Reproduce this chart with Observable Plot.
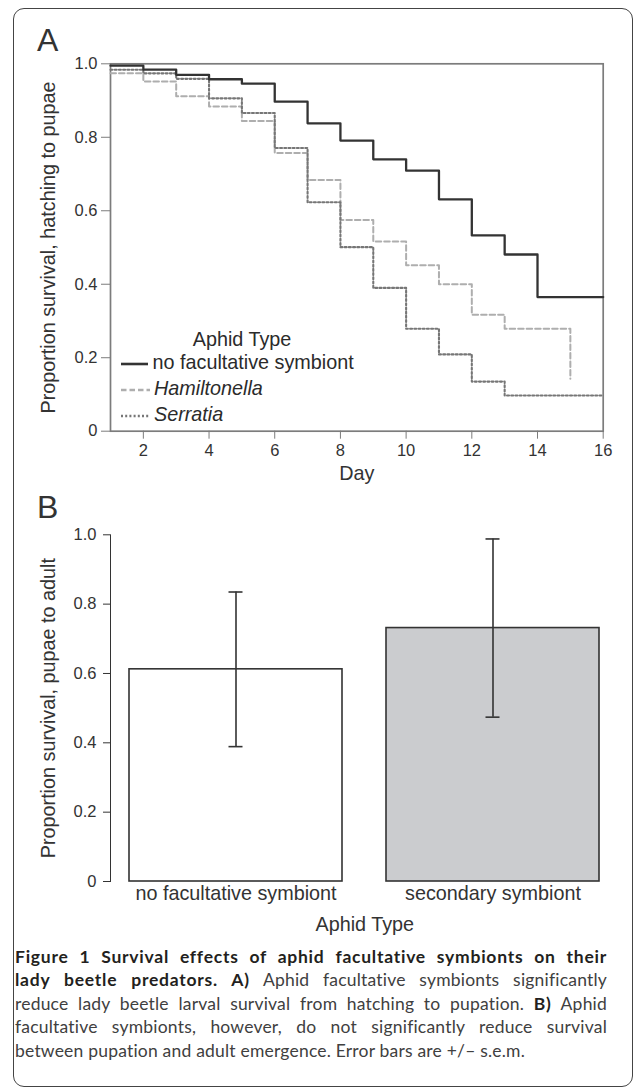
<!DOCTYPE html>
<html>
<head>
<meta charset="utf-8">
<script src="https://cdn.jsdelivr.net/npm/d3@7"></script>
<script src="https://cdn.jsdelivr.net/npm/@observablehq/plot@0.6"></script>
<style>
  body { margin: 0; background: #fff; }
  #wrap { position: relative; width: 633px; height: 1092px; overflow: hidden;
          font-family: "Liberation Sans", Arial, sans-serif; color: #2b2b2b; }
  .abs { position: absolute; }
  #border { left: 13px; top: 8px; width: 619.5px; height: 1079px; border: 1.5px solid #444;
            border-radius: 11px; box-sizing: border-box; }
  .panel { font-size: 32px; line-height: 1; color: #333; transform: translate(0, -50%); }
  #pa, #pb { left: 0; }
  #pa { top: 0; color: #7c7c7c; }
  #pb { top: 480px; color: #333; }
  #pa text, #pb text { fill: #333; }
  .leg { font-size: 19.8px; line-height: 1; color: #2b2b2b; white-space: nowrap; transform: translate(0, -50%); }
  .legtitle { transform: translate(-50%, -50%); }
  #caption { left: 15px; top: 944.8px; width: 592px; font-family: Lato, "Open Sans", sans-serif;
             font-size: 17.5px; line-height: 23.5px; color: #404040; letter-spacing: 0.2px; }
  #caption .ln { text-align: justify; text-align-last: justify; white-space: nowrap; }
  #caption .ln.last { text-align-last: left; }
  #caption b { color: #231f20; font-weight: 700; letter-spacing: 0.75px; }
</style>
</head>
<body>
<div id="wrap">
  <div id="border" class="abs"></div>
  <div id="pa" class="abs"></div>
  <div id="pb" class="abs"></div>
  <div class="abs panel" style="left:37px; top:40px;">A</div>
  <div class="abs panel" style="left:37px; top:506.5px;">B</div>
  <div id="legend"></div>
  <div id="caption" class="abs">
    <div class="ln"><b>Figure 1 Survival effects of aphid facultative symbionts on their</b></div>
    <div class="ln"><b>lady beetle predators. A)</b> Aphid facultative symbionts significantly</div>
    <div class="ln">reduce lady beetle larval survival from hatching to pupation. <b>B)</b> Aphid</div>
    <div class="ln">facultative symbionts, however, do not significantly reduce survival</div>
    <div class="ln last">between pupation and adult emergence. Error bars are +/– s.e.m.</div>
  </div>
</div>
<script>
// ---------- Panel A data ----------
const days = [1, 2, 3, 4, 5, 6, 7, 8, 9, 10, 11, 12, 13, 14, 15, 16];
const noSymbiont   = [0.995, 0.984, 0.970, 0.958, 0.946, 0.897, 0.838, 0.791, 0.740, 0.709, 0.631, 0.533, 0.481, 0.365, 0.365, 0.365];
const hamiltonella = [0.974, 0.952, 0.912, 0.884, 0.844, 0.757, 0.684, 0.575, 0.516, 0.452, 0.400, 0.317, 0.279, 0.279, 0.143, null];
const serratia     = [0.984, 0.974, 0.959, 0.906, 0.866, 0.771, 0.623, 0.501, 0.390, 0.279, 0.209, 0.135, 0.097, 0.097, 0.097, 0.097];
const seriesNames = ["no facultative symbiont", "Hamiltonella", "Serratia"];
const legendTitle = "Aphid Type";
const xTicksA = [2, 4, 6, 8, 10, 12, 14, 16];
const yTicks = [0, 0.2, 0.4, 0.6, 0.8, 1.0];
const xLabelA = "Day";
const yLabelA = "Proportion survival, hatching to pupae";

// ---------- Panel B data ----------
const barCategories = ["no facultative symbiont", "secondary symbiont"];
const barMeans = [0.612, 0.731];
const barErrors = [0.223, 0.257];
const xLabelB = "Aphid Type";
const yLabelB = "Proportion survival, pupae to adult";

const fmt = d => d === 0 ? "0" : d.toFixed(1);
const font = "'Liberation Sans', Arial, sans-serif";

// ---------- Panel A ----------
const rowsA = days.map((d, i) => ({day: d, s0: noSymbiont[i], s1: hamiltonella[i], s2: serratia[i]}));
const styles = [
  {stroke: "#333333", strokeWidth: 2.3, dash: null},
  {stroke: "#aeaeae", strokeWidth: 2, dash: "5.5,3"},
  {stroke: "#767676", strokeWidth: 2.1, dash: "2,2.2"}
];
const plotA = Plot.plot({
  width: 633, height: 500,
  marginTop: 63.3, marginBottom: 69.3, marginLeft: 110, marginRight: 30.3,
  style: {fontFamily: font, fontSize: "16.5px", background: "transparent", overflow: "visible"},
  x: {domain: [1, 16], ticks: xTicksA, tickSize: 8, tickPadding: 5, label: null},
  y: {domain: [0, 1], ticks: yTicks, tickFormat: fmt, tickSize: 9, tickPadding: 4, label: null},
  marks: [
    Plot.frame({stroke: "#7c7c7c", strokeWidth: 1.7}),
    Plot.line(rowsA, {x: "day", y: "s1", curve: "step-after", stroke: styles[1].stroke, strokeWidth: styles[1].strokeWidth, strokeDasharray: styles[1].dash}),
    Plot.line(rowsA, {x: "day", y: "s2", curve: "step-after", stroke: styles[2].stroke, strokeWidth: styles[2].strokeWidth, strokeDasharray: styles[2].dash}),
    Plot.line(rowsA, {x: "day", y: "s0", curve: "step-after", stroke: styles[0].stroke, strokeWidth: styles[0].strokeWidth}),
    Plot.text([xLabelA], {text: d => d, frameAnchor: "bottom", dy: 49, fontSize: 19.8}),
    Plot.text([yLabelA], {text: d => d, frameAnchor: "left", textAnchor: "middle", lineAnchor: "middle", dx: -62, rotate: -90, fontSize: 19.8})
  ]
});
document.getElementById("pa").appendChild(plotA);

// Legend (HTML) for panel A
const legend = document.getElementById("legend");
const t = document.createElement("div");
t.className = "abs leg legtitle";
t.style.left = "242px"; t.style.top = "340px";
t.textContent = legendTitle;
legend.appendChild(t);
const rowY = [362.5, 388.8, 415];
seriesNames.forEach((name, i) => {
  const st = styles[i];
  const ns = "http://www.w3.org/2000/svg";
  const svg = document.createElementNS(ns, "svg");
  svg.setAttribute("width", 34); svg.setAttribute("height", 10);
  svg.style.position = "absolute";
  svg.style.left = "120px";
  svg.style.top = (rowY[i] + 1 - 5) + "px";
  const ln = document.createElementNS(ns, "line");
  ln.setAttribute("x1", 1); ln.setAttribute("x2", i === 0 ? 28 : 30);
  ln.setAttribute("y1", 5); ln.setAttribute("y2", 5);
  ln.setAttribute("stroke", st.stroke); ln.setAttribute("stroke-width", st.strokeWidth + 0.3);
  if (st.dash) ln.setAttribute("stroke-dasharray", st.dash);
  svg.appendChild(ln);
  legend.appendChild(svg);
  const d = document.createElement("div");
  d.className = "abs leg";
  d.style.left = (i === 0 ? 152.5 : 154) + "px";
  d.style.top = rowY[i] + "px";
  if (i > 0) d.style.fontStyle = "italic";
  d.textContent = name;
  legend.appendChild(d);
});

// ---------- Panel B ----------
const rowsB = barCategories.map((c, i) => ({cat: c, mean: barMeans[i], lo: barMeans[i] - barErrors[i], hi: barMeans[i] + barErrors[i]}));
const plotB = Plot.plot({
  width: 633, height: 470,
  marginTop: 54.3, marginBottom: 69, marginLeft: 110, marginRight: 14.4,
  style: {fontFamily: font, fontSize: "16.5px", background: "transparent", overflow: "visible"},
  x: {domain: barCategories, paddingInner: 0.17, paddingOuter: 0.072, axis: null},
  y: {domain: [0, 1], ticks: yTicks, tickFormat: fmt, tickSize: 7, tickPadding: 7, line: true, label: null},
  color: {domain: barCategories, range: ["#ffffff", "#cbcccf"]},
  marks: [
    Plot.barY(rowsB, {x: "cat", y: "mean", fill: "cat", stroke: "#333", strokeWidth: 1.6}),
    Plot.ruleX(rowsB, {x: "cat", y1: "lo", y2: "hi", stroke: "#333", strokeWidth: 1.6}),
    Plot.tickY(rowsB, {x: "cat", y: "lo", insetLeft: 99.5, insetRight: 99.5, stroke: "#333", strokeWidth: 1.6}),
    Plot.tickY(rowsB, {x: "cat", y: "hi", insetLeft: 99.5, insetRight: 99.5, stroke: "#333", strokeWidth: 1.6}),
    Plot.text(barCategories, {x: d => d, text: d => d, frameAnchor: "bottom", dy: 18, fontSize: 19.8}),
    Plot.text([xLabelB], {text: d => d, frameAnchor: "bottom", dy: 49, fontSize: 19.8}),
    Plot.text([yLabelB], {text: d => d, frameAnchor: "left", textAnchor: "middle", lineAnchor: "middle", dx: -62, rotate: -90, fontSize: 19.8})
  ]
});
document.getElementById("pb").appendChild(plotB);
</script>
</body>
</html>
